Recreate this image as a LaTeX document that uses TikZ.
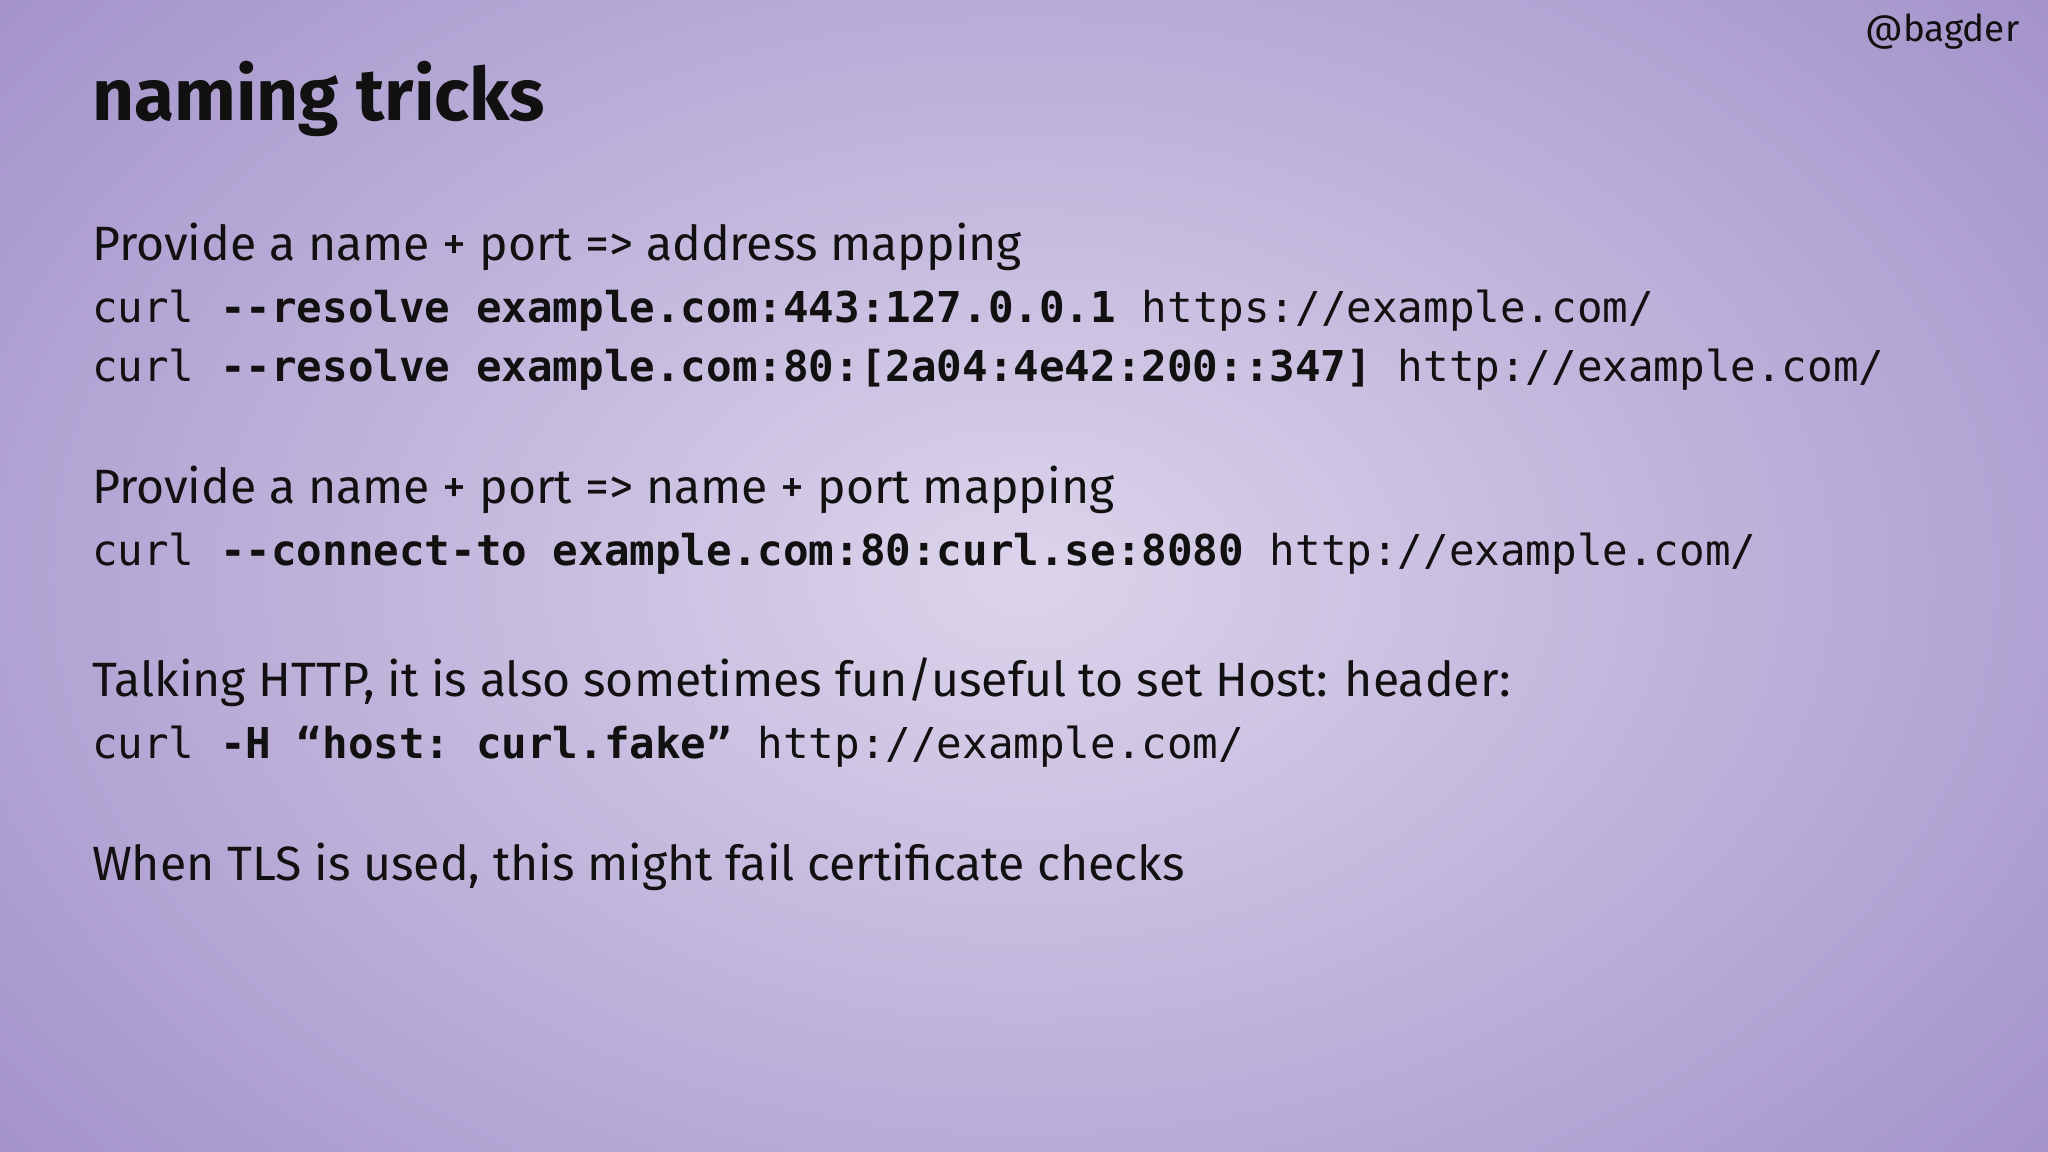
\documentclass[tikz,border=0pt]{standalone}
\usepackage{fontspec}
\setmainfont{Fira Sans}
\setmonofont{DejaVu Sans Mono}
\newfontfamily\titlefont{Fira Sans}[UprightFont={* Bold}]
\definecolor{bgin}{HTML}{DCD4EB}
\definecolor{bgmid}{HTML}{BBAFD9}
\definecolor{bgout}{HTML}{9E8DC8}
\definecolor{ink}{HTML}{111111}
\begin{document}
\begin{tikzpicture}[
  txt/.style={anchor=base west, inner sep=0pt, text=ink, font=\fontsize{13.7}{16}\selectfont},
  code/.style={anchor=base west, inner sep=0pt, text=ink, font=\fontsize{12.1}{15}\ttfamily}]
\useasboundingbox (0,0) rectangle (20.48,-11.52);
\fill[bgout] (0,0) rectangle (20.48,-11.52);
\begin{scope}
\clip (0,0) rectangle (20.48,-11.52);
\shade[inner color=bgin, outer color=bgout] (10.24,-5.76) ellipse (14.5 and 10);
\end{scope}
\node[txt, font=\fontsize{20.8}{25}\titlefont] (title) at (0.914,-1.21) {naming tricks};
\node[anchor=base east, inner sep=0pt, text=ink, font=\fontsize{10.5}{13}\selectfont] (tag) at (20.2,-0.42) {@bagder};
\node[txt] (l1) at (0.914,-2.61) {Provide a name + port => address mapping};
\node[code] (c1) at (0.914,-3.23) {curl \textbf{--resolve example.com:443:127.0.0.1} https://example.com/};
\node[code] (c2) at (0.914,-3.82) {curl \textbf{--resolve example.com:80:[2a04:4e42:200::347]} http://example.com/};
\node[txt] (l2) at (0.914,-5.04) {Provide a name + port => name + port mapping};
\node[code] (c3) at (0.914,-5.66) {curl \textbf{--connect-to example.com:80:curl.se:8080} http://example.com/};
\node[txt] (l3) at (0.914,-6.96) {Talking HTTP, it is also sometimes fun/useful to set Host: header:};
\node[code] (c4) at (0.914,-7.58) {curl \textbf{-H “host: curl.fake”} http://example.com/};
\node[txt] (l4) at (0.914,-8.80) {When TLS is used, this might fail certificate checks};
\end{tikzpicture}
\end{document}
